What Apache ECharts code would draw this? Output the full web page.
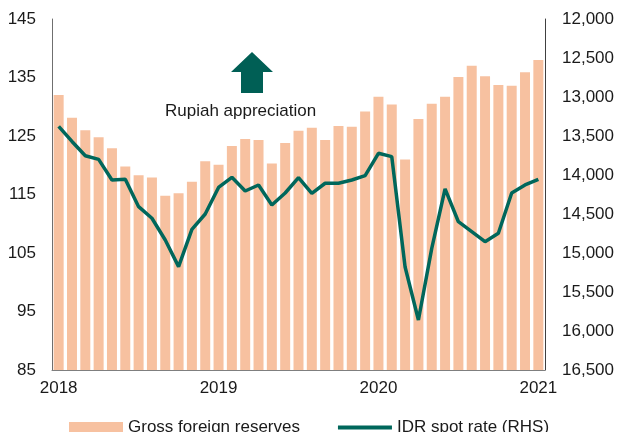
<!DOCTYPE html>
<html>
<head>
<meta charset="utf-8">
<script src="https://cdn.jsdelivr.net/npm/echarts@6/dist/echarts.min.js"></script>
<style>
  html, body { margin: 0; padding: 0; background: #fff; }
  #chart { width: 617px; height: 432px; }
</style>
</head>
<body>
<div id="chart"></div>
<script>
// monthly, Jan 2018 .. Jan 2021
var months = [
  "2018-01", "2018-02", "2018-03", "2018-04", "2018-05", "2018-06",
  "2018-07", "2018-08", "2018-09", "2018-10", "2018-11", "2018-12",
  "2019-01", "2019-02", "2019-03", "2019-04", "2019-05", "2019-06",
  "2019-07", "2019-08", "2019-09", "2019-10", "2019-11", "2019-12",
  "2020-01", "2020-02", "2020-03", "2020-04", "2020-05", "2020-06",
  "2020-07", "2020-08", "2020-09", "2020-10", "2020-11", "2020-12",
  "2021-01"
];

// gross foreign reserves (USD bn, LHS)
var reserves = [
  132.0, 128.1, 126.0, 124.8, 122.9, 119.8, 118.3, 117.9, 114.8, 115.2, 117.2, 120.7,
  120.1, 123.3, 124.5, 124.3, 120.3, 123.8, 125.9, 126.4, 124.3, 126.7, 126.6, 129.2,
  131.7, 130.4, 121.0, 127.9, 130.5, 131.7, 135.1, 137.0, 135.2, 133.7, 133.6, 135.9,
  138.0
];

// IDR per USD (RHS, inverted)
var idr = [
  13376, 13570, 13753, 13800, 14064, 14055, 14406, 14555, 14833, 15175, 14696, 14500,
  14160, 14030, 14205, 14128, 14385, 14231, 14034, 14235, 14106, 14106, 14064, 14009,
  13722, 13765, 15179, 15859, 14940, 14179, 14599, 14727, 14855, 14747, 14231, 14128,
  14055
];

var leftTicks = [85, 95, 105, 115, 125, 135, 145];

var barColor = "#F7C1A0";
var lineColor = "#00675B";
var font = "Liberation Sans";
var fs = 17;

var myChart = echarts.init(document.getElementById("chart"));

myChart.setOption({
  animation: false,
  textStyle: { fontFamily: font },
  grid: {
    left: 52,
    right: 71,
    top: 19,
    bottom: 62,
  },
  legend: {
    left: 64,
    top: 414,
    itemWidth: 54,
    itemHeight: 11,
    itemGap: 38,
    textStyle: { fontSize: fs, color: "#1a1a1a", fontFamily: font },
    data: [
      { name: "Gross foreign reserves", icon: "rect" },
      { name: "IDR spot rate (RHS)", icon: "path://M0,0 H54 V4 H0 Z" },
    ],
  },
  xAxis: {
    type: "category",
    data: months,
    boundaryGap: true,
    axisLine: { lineStyle: { color: "#7f7f7f", width: 1 } },
    axisTick: { show: false },
    axisLabel: {
      interval: 11,
      margin: 10,
      fontSize: fs,
      color: "#1a1a1a",
      formatter: function (v) {
        return v.slice(0, 4);
      },
    },
  },
  yAxis: [
    {
      type: "value",
      min: 85,
      max: 145,
      splitLine: { show: false },
      axisLine: { show: true, lineStyle: { color: "#6f6f6f" } },
      axisTick: { show: false },
      axisLabel: {
        customValues: leftTicks,
        margin: 16,
        fontSize: fs,
        color: "#1a1a1a",
      },
    },
    {
      type: "value",
      min: 12000,
      max: 16500,
      interval: 500,
      inverse: true,
      position: "right",
      splitLine: { show: false },
      axisLine: { show: true, lineStyle: { color: "#404040" } },
      axisTick: { show: false },
      axisLabel: {
        margin: 17,
        fontSize: fs,
        color: "#1a1a1a",
        formatter: function (v) {
          return v.toLocaleString("en-US");
        },
      },
    },
  ],
  series: [
    {
      name: "Gross foreign reserves",
      type: "bar",
      yAxisIndex: 0,
      data: reserves,
      barCategoryGap: "25%",
      itemStyle: { color: barColor },
    },
    {
      name: "IDR spot rate (RHS)",
      type: "line",
      yAxisIndex: 1,
      data: idr,
      symbol: "none",
      lineStyle: { color: lineColor, width: 3.5 },
      itemStyle: { color: lineColor },
    },
  ],
  graphic: [
    {
      type: "polygon",
      shape: {
        points: [
          [252, 52], [273, 72], [263, 72], [263, 93],
          [241, 93], [241, 72], [231, 72],
        ],
      },
      style: { fill: "#005F55" },
    },
    {
      type: "text",
      left: 165,
      top: 103,
      style: {
        text: "Rupiah appreciation",
        fontSize: fs,
        fontFamily: font,
        fill: "#1a1a1a",
      },
    },
  ],
});
</script>
</body>
</html>
